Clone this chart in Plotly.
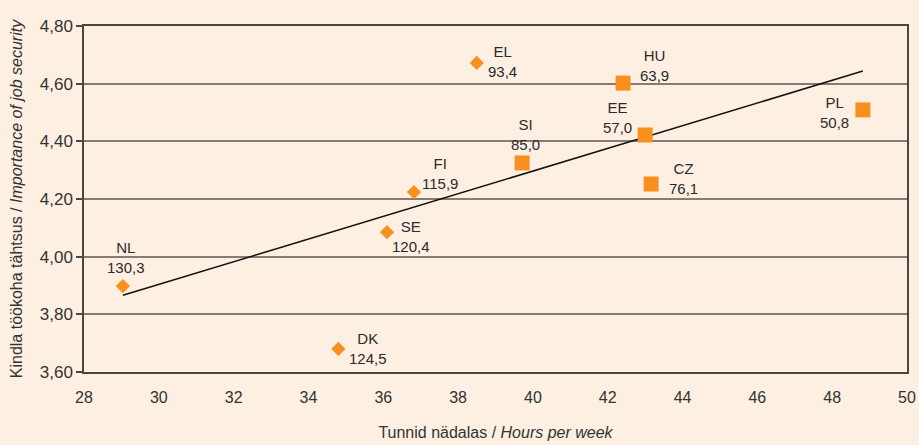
import numpy as np
import plotly.graph_objects as go

# Riigid, tunnid nädalas, kindla töökoha tähtsus ja indeks
countries = ["NL", "DK", "SE", "FI", "EL", "SI", "HU", "EE", "CZ", "PL"]
hours = [29.04, 34.8, 36.1, 36.82, 38.5, 39.71, 42.41, 43.0, 43.16, 48.82]
importance = [3.898, 3.68, 4.085, 4.224, 4.672, 4.325, 4.602, 4.422, 4.252, 4.509]
index_values = ["130,3", "124,5", "120,4", "115,9", "93,4", "85,0", "63,9", "57,0", "76,1", "50,8"]
# vanad liikmesriigid = romb, uued = ruut
group = ["old", "old", "old", "old", "old", "new", "new", "new", "new", "new"]

x_ticks = list(range(28, 51, 2))
y_ticks = [3.6, 3.8, 4.0, 4.2, 4.4, 4.6, 4.8]

ORANGE = "#F7901E"
BG = "#FDF0E2"
GRID = "#867c74"
AXIS = "#4a4642"
TEXT = "#2b2b2b"
FONT = "Liberation Sans"

# sildi paigutus: (xanchor, yanchor, xshift, yshift)
label_pos = {
    "NL": ("center", "bottom", 3, 8),
    "DK": ("left", "middle", 9, 0),
    "SE": ("left", "middle", 3, -4),
    "FI": ("left", "middle", 6, 19),
    "EL": ("left", "middle", 9, 1),
    "SI": ("center", "bottom", 3, 8),
    "HU": ("left", "middle", 15, 18),
    "EE": ("right", "middle", -11, 17),
    "CZ": ("left", "middle", 16, 6),
    "PL": ("right", "middle", -12, -3),
}

fig = go.Figure()

# trendijoon (vähimruutude meetod)
slope, intercept = np.polyfit(hours, importance, 1)
x_line = np.array([min(hours), max(hours)])
fig.add_trace(go.Scatter(
    x=x_line, y=slope * x_line + intercept, mode="lines",
    line=dict(color="#111111", width=1.5), hoverinfo="skip",
))

for g, symbol, size in [("old", "diamond", 11), ("new", "square", 15)]:
    idx = [i for i, v in enumerate(group) if v == g]
    fig.add_trace(go.Scatter(
        x=[hours[i] for i in idx],
        y=[importance[i] for i in idx],
        mode="markers",
        marker=dict(symbol=symbol, size=size, color=ORANGE, line=dict(width=0)),
        text=[countries[i] for i in idx],
    ))

for c, x, y, v in zip(countries, hours, importance, index_values):
    xa, ya, xs, ys = label_pos[c]
    fig.add_annotation(
        x=x, y=y, text=f"{c}<br>{v}", showarrow=False,
        xanchor=xa, yanchor=ya, xshift=xs, yshift=ys, align="center",
        font=dict(family=FONT, size=15, color=TEXT),
    )

fig.update_layout(
    width=919, height=445,
    margin=dict(l=84, r=12, t=26, b=73, autoexpand=False),
    paper_bgcolor=BG, plot_bgcolor=BG,
    showlegend=False,
    separators=", ",
    font=dict(family=FONT, color=TEXT),
    xaxis=dict(
        range=[28, 50], tickvals=x_ticks, showgrid=False, zeroline=False,
        showline=True, linecolor=AXIS, linewidth=1.5, mirror=True, automargin=False,
        ticks="", ticklabelstandoff=10,
        tickfont=dict(family=FONT, size=16, color="#333333"),
        title=dict(text="Tunnid nädalas / <i>Hours per week</i>",
                   font=dict(family=FONT, size=16, color="#333333"), standoff=22),
    ),
    yaxis=dict(
        range=[3.6, 4.8], tickvals=y_ticks, tickformat=".2f",
        showgrid=True, gridcolor=GRID, gridwidth=1.5, zeroline=False,
        showline=True, linecolor=AXIS, linewidth=1.5, mirror=True, automargin=False,
        ticks="outside", ticklen=6, tickcolor=AXIS, tickwidth=1.5,
        tickfont=dict(family=FONT, size=17, color="#333333"),
        title=dict(text="Kindla töökoha tähtsus / <i>Importance of job security</i>",
                   font=dict(family=FONT, size=16, color="#333333"), standoff=13),
    ),
)

# sirvija vaikimisi 8px ääris maha
fig.write_html("out.html", config={"displayModeBar": False},
               post_script="document.body.style.margin='0';")
